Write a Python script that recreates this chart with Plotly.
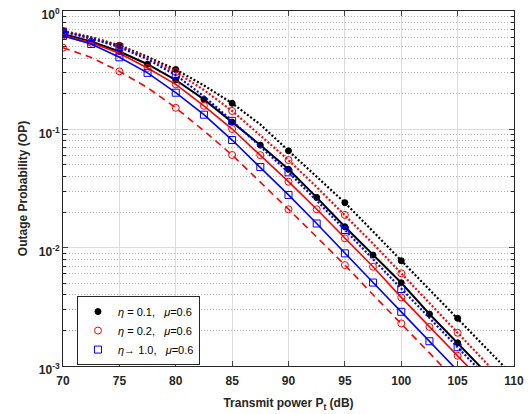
import plotly.graph_objects as go

# Transmit power (dB)
pt_db = [70, 72.5, 75, 77.5, 80, 82.5, 85, 87.5, 90, 92.5, 95, 97.5, 100, 102.5, 105, 107.5, 110]

# Outage probability curves
black_dotted = [0.68, 0.60, 0.513, 0.41, 0.320, 0.235, 0.166, 0.110, 0.0659, 0.0400, 0.0240, 0.0137, 0.00775, 0.0044, 0.00253, 0.00143, 0.00081]
black_solid = [0.64, 0.554, 0.455, 0.355, 0.261, 0.179, 0.115, 0.0736, 0.0459, 0.0266, 0.01503, 0.00866, 0.00505, 0.00275, 0.00157, 0.00088, 0.0005]
red_dotted = [0.675, 0.59, 0.506, 0.40, 0.305, 0.215, 0.143, 0.089, 0.055, 0.0325, 0.0189, 0.0108, 0.00607, 0.0034, 0.00191, 0.00107, 0.0006]
red_solid = [0.62, 0.54, 0.44, 0.33, 0.240, 0.158, 0.1006, 0.0605, 0.0361, 0.0211, 0.0120, 0.0069, 0.0038, 0.00214, 0.00122, 0.00069, 0.00039]
red_dashed = [0.49, 0.405, 0.309, 0.225, 0.152, 0.097, 0.0607, 0.036, 0.0211, 0.0123, 0.00713, 0.0040, 0.00229, 0.00129, 0.00072, 0.00041, 0.00023]
blue_dotted = [0.67, 0.585, 0.496, 0.39, 0.288, 0.19, 0.118, 0.072, 0.0433, 0.0250, 0.0141, 0.0080, 0.00447, 0.00252, 0.00144, 0.00081, 0.00046]
blue_solid = [0.615, 0.526, 0.406, 0.30, 0.204, 0.133, 0.0812, 0.048, 0.0279, 0.0160, 0.00895, 0.00507, 0.00287, 0.00162, 0.00091, 0.00051, 0.00029]

legend_labels = [
    "<i>η</i> = 0.1,&nbsp;&nbsp; <i>μ</i>=0.6",
    "<i>η</i> = 0.2,&nbsp;&nbsp; <i>μ</i>=0.6",
    "<i>η</i>→ 1.0,&nbsp;&nbsp; <i>μ</i>=0.6",
]

y_tickvals = [1e-3, 1e-2, 1e-1, 1]
y_ticktext = ["10<sup>-3</sup>", "10<sup>-2</sup>", "10<sup>-1</sup>", "10<sup>0</sup>"]
x_tickvals = [70, 75, 80, 85, 90, 95, 100, 105, 110]

BLACK, RED, BLUE = "#000000", "#ff0000", "#0000ff"
DOT = "2px,2px"
DASH = "7px,5px"

fig = go.Figure()

def add_curve(yv, color, dash, symbol, msize, every, name=None, width=1.6):
    fig.add_trace(go.Scatter(x=pt_db, y=yv, mode="lines", line=dict(color=color, width=width, dash=dash),
                             showlegend=False, hoverinfo="skip"))
    fig.add_trace(go.Scatter(x=pt_db[::every], y=yv[::every], mode="markers",
                             marker=dict(symbol=symbol, size=msize, color=color,
                                         line=dict(color=color, width=1)),
                             name=name if name else "", showlegend=name is not None))

# black (eta = 0.1)
add_curve(black_dotted, BLACK, DOT, "circle", 6, 2, legend_labels[0], width=2.2)
add_curve(black_solid, BLACK, "solid", "circle", 6, 1, None, width=2.0)
# red (eta = 0.2)
add_curve(red_dotted, RED, DOT, "circle-open", 7, 2, legend_labels[1], width=2.2)
add_curve(red_solid, RED, "solid", "circle-open", 7, 1)
add_curve(red_dashed, RED, DASH, "circle-open", 7, 2)
# blue (eta -> 1)
add_curve(blue_dotted, BLUE, DOT, "square-open", 7, 2, legend_labels[2], width=2.2)
add_curve(blue_solid, BLUE, "solid", "square-open", 7, 1)

minor_vals = [k * 10 ** e for e in (-3, -2, -1) for k in range(2, 10)]

fig.update_layout(
    width=532, height=414,
    margin=dict(l=63, r=18, t=11, b=48),
    paper_bgcolor="white", plot_bgcolor="white",
    font=dict(family="Liberation Sans, Arial, sans-serif", size=12, color="#262626"),
    legend=dict(x=0.031, y=0.197, xanchor="left", yanchor="top",
                bgcolor="white", bordercolor="#262626", borderwidth=1,
                font=dict(size=11, color="#000000"), tracegroupgap=0, itemwidth=30),
    xaxis=dict(range=[70, 110], tickvals=x_tickvals, ticks="inside", ticklen=5,
               showline=True, linecolor="#262626", linewidth=1, mirror="ticks",
               showgrid=True, gridcolor="#dcdcdc", gridwidth=1, zeroline=False,
               automargin=False, ticklabelstandoff=4,
               tickfont=dict(size=12, weight="bold", color="#262626"),
               title=dict(text="Transmit power P<sub>t</sub> (dB)",
                          font=dict(size=12, weight="bold", color="#262626"), standoff=11)),
    yaxis=dict(type="log", range=[-3, 0], tickvals=y_tickvals, ticktext=y_ticktext,
               ticks="inside", ticklen=5, automargin=False, ticklabelshift=4,
               showline=True, linecolor="#262626", linewidth=1, mirror="ticks",
               showgrid=True, gridcolor="#dcdcdc", gridwidth=1, zeroline=False,
               tickfont=dict(size=12, weight="bold", color="#262626"),
               minor=dict(tickvals=minor_vals, ticks="inside", ticklen=3, tickcolor="#262626",
                          showgrid=True, gridcolor="#b0b0b0", griddash="1px,2px", gridwidth=1),
               title=dict(text="Outage Probability (OP)",
                          font=dict(size=12, weight="bold", color="#262626"), standoff=8)),
)

fig.write_html("out.html", config={"displayModeBar": False},
               post_script="document.body.style.margin='0';")
